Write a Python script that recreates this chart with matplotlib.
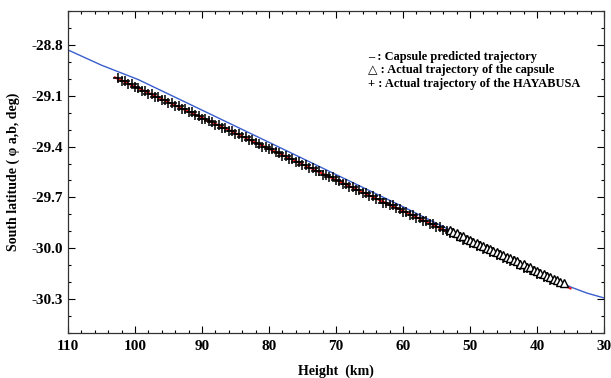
import matplotlib
matplotlib.use("Agg")
import matplotlib.pyplot as plt
from matplotlib.ticker import MultipleLocator

plt.rcParams['font.family'] = ['Liberation Serif', 'DejaVu Serif']
plt.rcParams['font.weight'] = 'bold'
plt.rcParams['axes.unicode_minus'] = False

# predicted trajectory of HAYABUSA (blue)
blue_h = [110, 105, 99.5, 90, 80, 70, 60, 55, 45, 40, 35, 32.5, 30]
blue_lat = [-28.83, -28.92, -29.005, -29.185, -29.375, -29.565, -29.755,
            -29.853, -30.05, -30.14, -30.228, -30.265, -30.293]

# capsule predicted trajectory (red)
red_h = [103, 80, 60, 35]
red_lat = [-28.992, -29.413, -29.780, -30.237]

# actual trajectory of the HAYABUSA (+)
hay_h = [102.5, 102, 101.5, 101, 100.5, 100, 99.5, 99, 98.5, 98,
         97.5, 97, 96.5, 96, 95.5, 95, 94.5, 94, 93.5, 93,
         92.5, 92, 91.5, 91, 90.5, 90, 89.5, 89, 88.5, 88,
         87.5, 87, 86.5, 86, 85.5, 85, 84.5, 84, 83.5, 83,
         82.5, 82, 81.5, 81, 80.5, 80, 79.5, 79, 78.5, 78,
         77.5, 77, 76.5, 76, 75.5, 75, 74.5, 74, 73.5, 73,
         72.5, 72, 71.5, 71, 70.5, 70, 69.5, 69, 68.5, 68,
         67.5, 67, 66.5, 66, 65.5, 65, 64.5, 64, 63.5, 63,
         62.5, 62, 61.5, 61, 60.5, 60, 59.5, 59, 58.5, 58,
         57.5, 57, 56.5, 56, 55.5, 55, 54.5, 54, 53.5, 53,
         52.5, 52, 51.5, 51, 50.5, 50, 49.5, 49, 48.5, 48,
         47.5, 47, 46.5, 46, 45.5, 45, 44.5, 44, 43.5, 43,
         42.5, 42, 41.5, 41, 40.5, 40, 39.5, 39, 38.5, 38]
hay_lat = [-28.997, -29.015, -29.016, -29.033, -29.033, -29.050, -29.052, -29.070, -29.071, -29.088,
           -29.088, -29.105, -29.107, -29.125, -29.126, -29.143, -29.143, -29.160, -29.162, -29.180,
           -29.181, -29.198, -29.198, -29.215, -29.217, -29.235, -29.236, -29.252, -29.253, -29.270,
           -29.272, -29.290, -29.291, -29.307, -29.308, -29.325, -29.327, -29.345, -29.346, -29.362,
           -29.363, -29.380, -29.382, -29.400, -29.401, -29.417, -29.417, -29.435, -29.437, -29.455,
           -29.456, -29.472, -29.472, -29.490, -29.492, -29.510, -29.511, -29.527, -29.527, -29.544,
           -29.547, -29.565, -29.566, -29.582, -29.582, -29.599, -29.602, -29.620, -29.621, -29.637,
           -29.637, -29.654, -29.657, -29.675, -29.676, -29.692, -29.692, -29.709, -29.712, -29.730,
           -29.731, -29.747, -29.747, -29.764, -29.767, -29.785, -29.786, -29.802, -29.802, -29.819,
           -29.821, -29.839, -29.841, -29.857, -29.857, -29.874, -29.876, -29.894, -29.896, -29.912,
           -29.912, -29.929, -29.931, -29.949, -29.951, -29.967, -29.967, -29.984, -29.986, -30.004,
           -30.006, -30.022, -30.022, -30.039, -30.041, -30.059, -30.061, -30.077, -30.077, -30.094,
           -30.096, -30.114, -30.116, -30.131, -30.132, -30.149, -30.151, -30.169, -30.171, -30.186]

# actual trajectory of the capsule (triangles)
cap_h = [53, 52.5, 52, 51.5, 51, 50.5, 50, 49.5, 49, 48.5, 48, 47.5,
         47, 46.5, 46, 45.5, 45, 44.5, 44, 43.5, 43, 42.5, 42, 41.5,
         41, 40.5, 40, 39.5, 39, 38.5, 38, 37.5, 37, 36.5, 36]
cap_lat = [-29.894, -29.906, -29.912, -29.925, -29.930, -29.944, -29.949, -29.962, -29.967, -29.980,
           -29.985, -29.998, -30.004, -30.017, -30.022, -30.035, -30.040, -30.053, -30.059, -30.072,
           -30.077, -30.090, -30.095, -30.108, -30.113, -30.126, -30.132, -30.145, -30.150, -30.163,
           -30.168, -30.182, -30.187, -30.200, -30.205]

fig = plt.figure(figsize=(6.11, 3.78), dpi=100)
ax = fig.add_axes([0.1113, 0.119, 0.8772, 0.852])

ax.plot(blue_h, blue_lat, color='#3a5fcd', lw=1.0, zorder=2)
ax.plot(red_h, red_lat, color='#e8201c', lw=1.6, zorder=3)
ax.plot(hay_h, hay_lat, ls='none', marker='+', color='black', ms=6.5, mew=1.1, zorder=4)
ax.plot(cap_h, cap_lat, ls='none', marker='^', mfc='white', mec='black', ms=5.5, mew=1.0, zorder=5)

ax.set_xlim(110, 30)
ax.set_ylim(-30.5, -28.6)
ax.xaxis.set_major_locator(MultipleLocator(10))
ax.xaxis.set_minor_locator(MultipleLocator(2))
ax.yaxis.set_minor_locator(MultipleLocator(0.1))
ax.set_yticks([-28.8, -29.1, -29.4, -29.7, -30.0, -30.3])
ax.set_yticklabels(['-28.8', '-29.1', '-29.4', '-29.7', '-30.0', '-30.3'])
ax.tick_params(which='both', direction='in', top=True, right=True, labelsize=11, width=0.8)
ax.tick_params(which='major', length=5)
ax.tick_params(which='minor', length=2.5)
ax.tick_params(axis='x', pad=5)
for s in ax.spines.values():
    s.set_linewidth(0.9)
    s.set_color('#333333')

ax.set_xlabel('Height  (km)', fontsize=10, fontweight='bold', labelpad=8)
ax.set_ylabel('South latitude ( \u03c6 a,b, deg)', fontsize=10, fontweight='bold', labelpad=8)

legend_lines = ['\u2013 : Capsule predicted trajectory',
                '\u25b3 : Actual trajectory of the capsule',
                '+ : Actual trajectory of the HAYABUSA']
for i, t in enumerate(legend_lines):
    fig.text(368 / 611, 1 - (57 + i * 13.5) / 378, t, fontsize=8.9, fontweight='bold',
             va='center', ha='left')

fig.savefig('out.png', dpi=100)
